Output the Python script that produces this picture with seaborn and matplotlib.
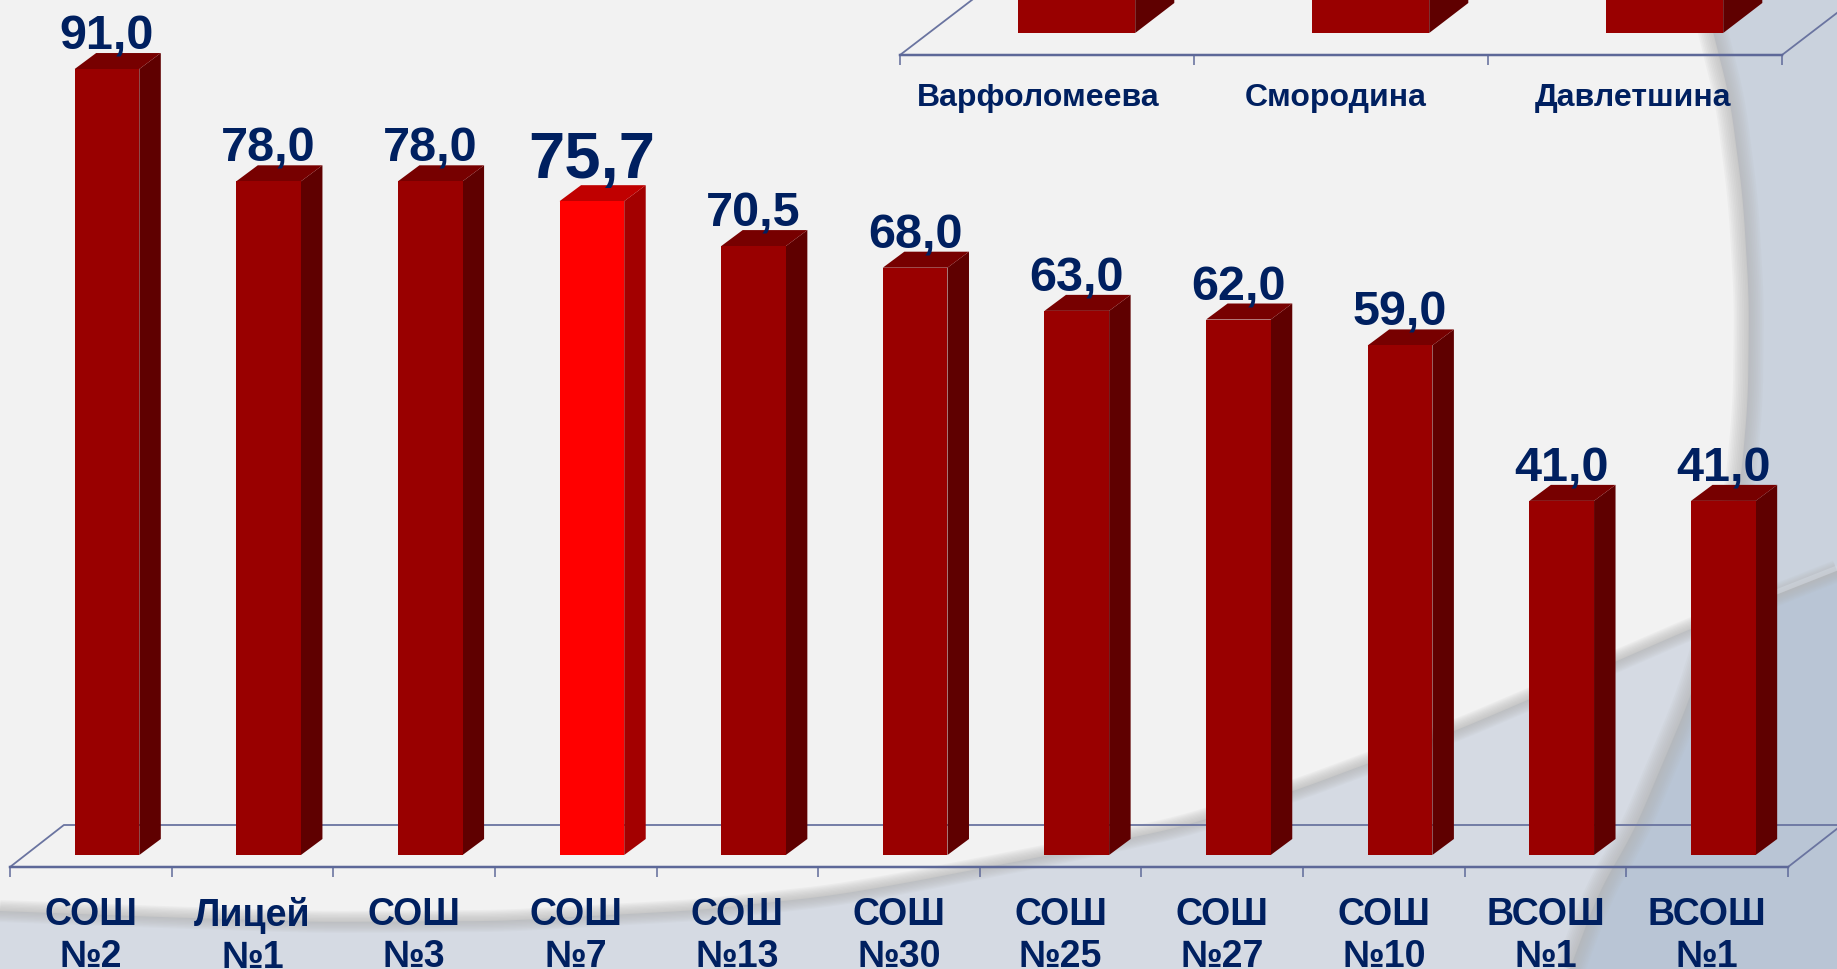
import numpy as np
import pandas as pd
import seaborn as sns
import matplotlib.pyplot as plt
from matplotlib.transforms import ScaledTranslation

# main chart
schools = ['СОШ\n№2', 'Лицей\n№1', 'СОШ\n№3', 'СОШ\n№7', 'СОШ\n№13', 'СОШ\n№30',
           'СОШ\n№25', 'СОШ\n№27', 'СОШ\n№10', 'ВСОШ\n№1', 'ВСОШ\n№1']
school_values = [91.0, 78.0, 78.0, 75.7, 70.5, 68.0, 63.0, 62.0, 59.0, 41.0, 41.0]
highlight_school = 3

# chart cut off at the top of the slide, its values can only be guessed
names = ['Варфоломеева', 'Смородина', 'Давлетшина']
name_values = [60.0, 60.0, 60.0]
name_shift = [-9, -5, -2]

# background curves, pixels of the slide
curve1_x = [0, 160, 319, 500, 574, 700, 829, 900, 1045, 1181, 1294, 1455, 1530, 1690, 1837]
curve1_y = [912, 918, 923, 922, 918, 911, 897, 885, 857, 828, 792, 732, 700, 630, 572]
curve2_y = [0, 33, 100, 200, 300, 400, 480, 620, 700, 835, 890, 970]
curve2_x = [1705, 1713, 1730, 1743, 1749, 1748, 1741, 1715, 1690, 1633, 1600, 1570]

W, H = 1837, 970
NAVY = '#002060'
AXIS = '#5d6898'
px = 72 / 100  # points per pixel at dpi 100

sns.set_theme(style='white')
plt.rcParams['font.family'] = ['Liberation Sans', 'DejaVu Sans']


def smooth_curve(xs, ys, start, stop, k=61):
    # piecewise line through the read points, rounded off with a moving average
    grid = np.arange(start, stop + 1.0)
    line = np.interp(grid, xs, ys)
    pad = k // 2
    padded = np.pad(line, pad, mode='reflect', reflect_type='odd')
    return grid, np.convolve(padded, np.ones(k) / k, mode='valid')


def shadow(ax, x, y, width, color='#b4b4b4', alpha=0.1):
    for w in np.linspace(2, width * 2, 9):
        ax.plot(x, y, color=color, alpha=alpha, lw=w * px, solid_capstyle='butt')


def draw_background(fig):
    ax = fig.add_axes([0, 0, 1, 1], zorder=0)
    ax.set_xlim(0, W)
    ax.set_ylim(H, 0)
    ax.axis('off')
    fig.patch.set_facecolor('#f2f2f2')

    x1, y1 = smooth_curve(curve1_x, curve1_y, 0, W)
    y2, x2 = smooth_curve(curve2_y, curve2_x, 0, H)

    shadow(ax, x1, y1, 11)
    ax.fill(np.r_[x1, W, 0], np.r_[y1, H, H], color='#d5dae3', lw=0)
    shadow(ax, x2, y2, 15)
    ax.fill(np.r_[x2, W, W], np.r_[y2, H, 0], color='#cad2dd', lw=0)

    # lower right piece, under curve 1 and right of curve 2
    below = y2 > np.interp(x2, x1, y1)
    keep = x1 > x2[below][0]
    ax.fill(np.r_[x1[keep], W, x2[below][::-1]],
            np.r_[y1[keep], H, y2[below][::-1]], color='#b9c5d5', lw=0)
    ax.plot(x1[keep], y1[keep] - 3, color='#d3d9e2', lw=5 * px, alpha=0.5)


def draw_chart(fig, box, labels, values, unit, gap, colors, sides, tops, floor_dy, depth_dy, font):
    left, right, bottom, top = box
    ax = fig.add_axes([left / W, 1 - bottom / H, (right - left) / W, (bottom - top) / H], zorder=2)
    ax.patch.set_alpha(0)
    n = len(labels)
    df = pd.DataFrame({'pos': range(n), 'value': values})
    sns.barplot(data=df, x='pos', y='value', hue='pos', palette=colors, legend=False,
                width=0.4, saturation=1, ax=ax, zorder=3, linewidth=0)
    bars = list(ax.patches)
    ax.set_xlim(-0.5, n - 0.5)
    ax.set_ylim(-gap / unit, (bottom - top - gap) / unit)

    # floor of the 3d box
    floor_dx = 1 / 3
    fy = ax.get_ylim()[0]
    back = fy + floor_dy / unit
    ax.plot([-0.5, -0.5 + floor_dx, n - 0.5 + floor_dx, n - 0.5],
            [fy, back, back, fy], color='#6a74a0', lw=1.8 * px, zorder=1, clip_on=False)

    # bars stand 0.1 to the right of their category, with side and top faces
    dx = 0.133
    dy = depth_dy / unit
    for bar, side, roof in zip(bars, sides, tops):
        bar.set_x(bar.get_x() + 0.1)
        x0, x1, h = bar.get_x(), bar.get_x() + bar.get_width(), bar.get_height()
        ax.fill([x1, x1 + dx, x1 + dx, x1], [0, dy, h + dy, h], color=side, lw=0, zorder=2.8)
        ax.fill([x0, x0 + dx, x1 + dx, x1], [h, h + dy, h + dy, h], color=roof, lw=0, zorder=2.8)

    sns.despine(ax=ax, left=True, right=True, top=True)
    ax.spines['bottom'].set_color(AXIS)
    ax.spines['bottom'].set_linewidth(2.5 * px)
    ax.yaxis.set_visible(False)
    ax.set_xlabel('')
    ax.set_xticks(range(n), labels, fontsize=font, fontweight='bold', color=NAVY, linespacing=1.2)
    ax.set_xticks(np.arange(n + 1) - 0.5, minor=True)
    ax.tick_params(axis='x', which='major', length=0)
    ax.tick_params(axis='x', which='minor', length=10 * px, width=1.5 * px, color=AXIS, bottom=True)
    return ax, bars


fig = plt.figure(figsize=(W / 100, H / 100), dpi=100)
draw_background(fig)

n_schools = len(schools)
fronts = ['#ff0000' if i == highlight_school else '#990000' for i in range(n_schools)]
sides = ['#a30000' if i == highlight_school else '#5f0000' for i in range(n_schools)]
tops = ['#c00000' if i == highlight_school else '#770000' for i in range(n_schools)]

ax, bars = draw_chart(fig, (10, 1788, 868, 0), schools, school_values, 8.637, 12,
                      fronts, sides, tops, 42, 16, 27)
ax.tick_params(axis='x', which='major', pad=29 * px)
for i, bar in enumerate(bars):
    big = i == highlight_school
    ax.annotate(f'{school_values[i]:.1f}'.replace('.', ','),
                (bar.get_x() + bar.get_width() / 2, bar.get_height()),
                xytext=(0, (24 if big else 20.5) * px), textcoords='offset points',
                ha='center', va='baseline', color=NAVY, fontweight='bold',
                fontsize=47 if big else 35, zorder=5)

ax2, _ = draw_chart(fig, (900, 1782, 56, 0), names, name_values, 4, 22,
                    ['#990000'] * 3, ['#5f0000'] * 3, ['#770000'] * 3, 75, 30, 23)
ax2.tick_params(axis='x', which='major', pad=27 * px)
for label, shift in zip(ax2.get_xticklabels(), name_shift):
    label.set_transform(label.get_transform() + ScaledTranslation(shift / 100, 0, fig.dpi_scale_trans))

fig.savefig('out.png', dpi=100, facecolor=fig.get_facecolor())
